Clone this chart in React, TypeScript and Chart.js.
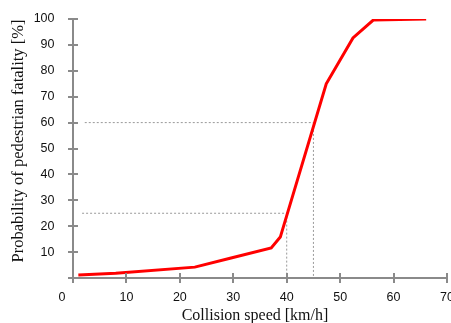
import React, { useEffect, useRef } from "react";
import { Chart, registerables } from "chart.js";

Chart.register(...registerables);

const speedKmh = [1, 8, 22.8, 29.4, 37.1, 38.8, 47.4, 52.4, 56.2, 66.1];
const fatalityPct = [1.2, 1.8, 4.2, 7.6, 11.6, 15.8, 75, 92.7, 99.6, 100];

const guide25X = [1.7, 40, 40];
const guide25Y = [25, 25, 0];
const guide60X = [2.2, 45, 45];
const guide60Y = [60, 60, 0];

const xTickValues = [0, 10, 20, 30, 40, 50, 60, 70];
const yTickValues = [0, 10, 20, 30, 40, 50, 60, 70, 80, 90, 100];

const xTitle = "Collision speed [km/h]";
const yTitle = "Probability of pedestrian fatality [%]";

const AXIS = "#8a8a8a";
const SANS = "'Liberation Sans', Arial, sans-serif";
const SERIF = "'Liberation Serif', 'Times New Roman', serif";
const TICK_FONT = 12.5;
const TICK_LEN = 5;
const X_PAD = 7;

const toPts = (xs: number[], ys: number[]) => xs.map((x, i) => ({ x, y: ys[i] }));

const axisDecor = {
  id: "axisDecor",
  afterDraw(chart: any) {
    const { ctx, scales } = chart;
    const xs = scales.x;
    const ys = scales.y;
    ctx.save();
    ctx.strokeStyle = AXIS;
    ctx.lineWidth = 2;
    ctx.beginPath();
    yTickValues.forEach((v) => {
      const py = Math.round(ys.getPixelForValue(v));
      ctx.moveTo(xs.left, py);
      ctx.lineTo(xs.left + TICK_LEN, py);
    });
    xTickValues.forEach((v) => {
      const px = Math.round(xs.getPixelForValue(v));
      ctx.moveTo(px, ys.bottom);
      ctx.lineTo(px, ys.bottom - TICK_LEN);
    });
    ctx.stroke();
    ctx.fillStyle = "#111";
    ctx.font = `${TICK_FONT}px ${SANS}`;
    ctx.textAlign = "center";
    ctx.textBaseline = "middle";
    ctx.fillText("0", xs.getPixelForValue(0) - 11, ys.bottom + TICK_LEN + X_PAD + TICK_FONT * 0.6);

    // axis titles
    ctx.textBaseline = "alphabetic";
    ctx.font = `16px ${SERIF}`;
    ctx.fillText(xTitle, (xs.left + xs.right) / 2 - 5, 320);
    ctx.translate(23, (ys.top + ys.bottom) / 2 - 7.5);
    ctx.rotate(-Math.PI / 2);
    ctx.font = `16.5px ${SERIF}`;
    ctx.fillText(yTitle, 0, 0);
    ctx.restore();
  },
};

export default function App() {
  const ref = useRef<HTMLCanvasElement | null>(null);
  useEffect(() => {
    document.body.style.margin = "0";
    const canvas = ref.current!;
    const chart = new Chart(canvas, {
      type: "line",
      data: {
        datasets: [
          {
            data: toPts(speedKmh, fatalityPct),
            borderColor: "#ff0000",
            borderWidth: 3,
            pointRadius: 0,
            tension: 0,
            order: 0,
          },
          {
            data: toPts(guide25X, guide25Y),
            borderColor: "#999999",
            borderWidth: 1,
            borderDash: [2, 2],
            pointRadius: 0,
            order: 1,
          },
          {
            data: toPts(guide60X, guide60Y),
            borderColor: "#999999",
            borderWidth: 1,
            borderDash: [2, 2],
            pointRadius: 0,
            order: 1,
          },
        ],
      },
      options: {
        animation: false,
        responsive: false,
        maintainAspectRatio: false,
        layout: { padding: { left: 8, right: 4, top: 19, bottom: 1 } },
        plugins: { legend: { display: false }, tooltip: { enabled: false } },
        scales: {
          x: {
            type: "linear",
            min: 0,
            max: 70,
            afterBuildTicks: (s: any) => {
              s.ticks = xTickValues.map((value) => ({ value }));
            },
            afterFit: (s: any) => {
              s.paddingRight = 0;
              s.paddingLeft = 0;
              s.height = 44;
            },
            ticks: {
              color: "#111",
              font: { family: SANS, size: TICK_FONT },
              padding: X_PAD,
              maxRotation: 0,
              callback: (v: any) => (v === 0 ? "" : String(v)),
            },
            grid: {
              drawOnChartArea: false,
              drawTicks: true,
              tickLength: TICK_LEN,
              color: AXIS,
              lineWidth: 2,
            },
            border: { color: AXIS, width: 2 },
            title: { display: false, text: xTitle },
          },
          y: {
            type: "linear",
            min: 0,
            max: 100,
            afterBuildTicks: (s: any) => {
              s.ticks = yTickValues.map((value) => ({ value }));
            },
            afterFit: (s: any) => {
              s.width = 65;
              s.paddingTop = 0;
              s.paddingBottom = 0;
            },
            ticks: {
              color: "#111",
              font: { family: SANS, size: TICK_FONT },
              padding: 13.5,
              callback: (v: any) => (v === 0 ? "" : String(v)),
            },
            grid: {
              drawOnChartArea: false,
              drawTicks: true,
              tickLength: TICK_LEN,
              color: AXIS,
              lineWidth: 2,
            },
            border: { color: AXIS, width: 2 },
            title: { display: false, text: yTitle },
          },
        },
      },
      plugins: [axisDecor],
    });
    return () => chart.destroy();
  }, []);
  return <canvas ref={ref} width={451} height={323} style={{ display: "block" }} />;
}
